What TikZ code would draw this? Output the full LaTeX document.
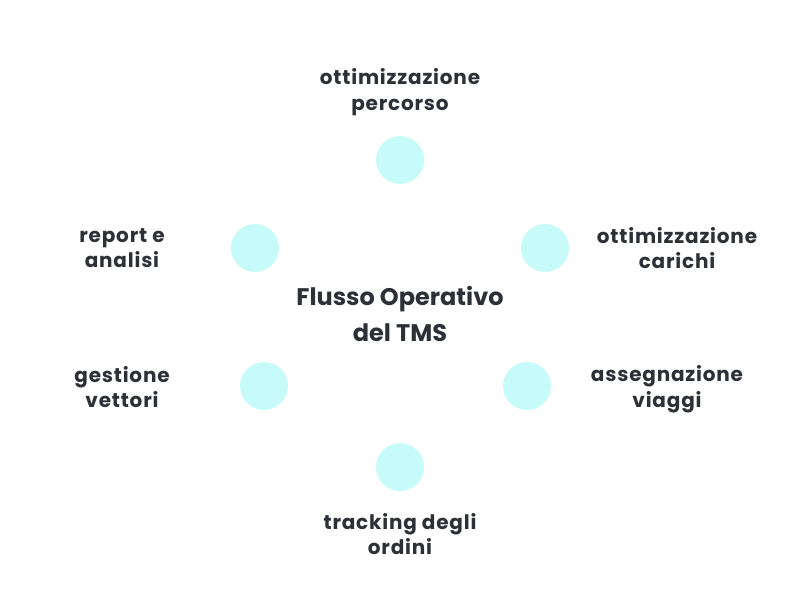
\documentclass[tikz,border=0pt]{standalone}
\usepackage{fontspec}
\setmainfont[LetterSpace=4]{Poppins}
\newfontfamily\flowfont{Poppins}
\usetikzlibrary{positioning}
\definecolor{mcyan}{HTML}{C6FBFA}
\definecolor{mtext}{HTML}{2E3038}
\tikzset{dot/.style = {fill=mcyan, circle, inner sep = 0, minimum size = 48}}
\tikzset{lbl/.style = {text=mtext, align=center, font=\fontsize{20}{25.5}\selectfont\bfseries}}
\begin{document}
\begin{tikzpicture}[x=1pt, y=-1pt]
    \useasboundingbox [fill=white] (0, 0) rectangle (800, 600);

    \node [text=mtext, align=center, font=\flowfont\fontsize{24}{36}\selectfont\bfseries] (flow) at (400, 314) {Flusso Operativo\\del TMS};

    \node [dot] (route) at (400, 160) {};
    \node [dot] (report) at (255, 248) {};
    \node [dot] (load) at (545, 248) {};
    \node [dot] (carrier) at (264, 386) {};
    \node [dot] (trip) at (527, 386) {};
    \node [dot] (track) at (400, 467) {};

    \node [lbl] (routetext) at (400, 92) {ottimizzazione\\percorso};
    \node [lbl] (reporttext) at (122, 248) {report e\\analisi};
    \node [lbl] (loadtext) at (677, 248) {ottimizzazione\\carichi};
    \node [lbl] (carriertext) at (122, 387) {gestione\\vettori};
    \node [lbl] (triptext) at (667, 389) {assegnazione\\viaggi};
    \node [lbl] (tracktext) at (400, 534) {tracking degli\\ordini};
  \end{tikzpicture}
\end{document}
